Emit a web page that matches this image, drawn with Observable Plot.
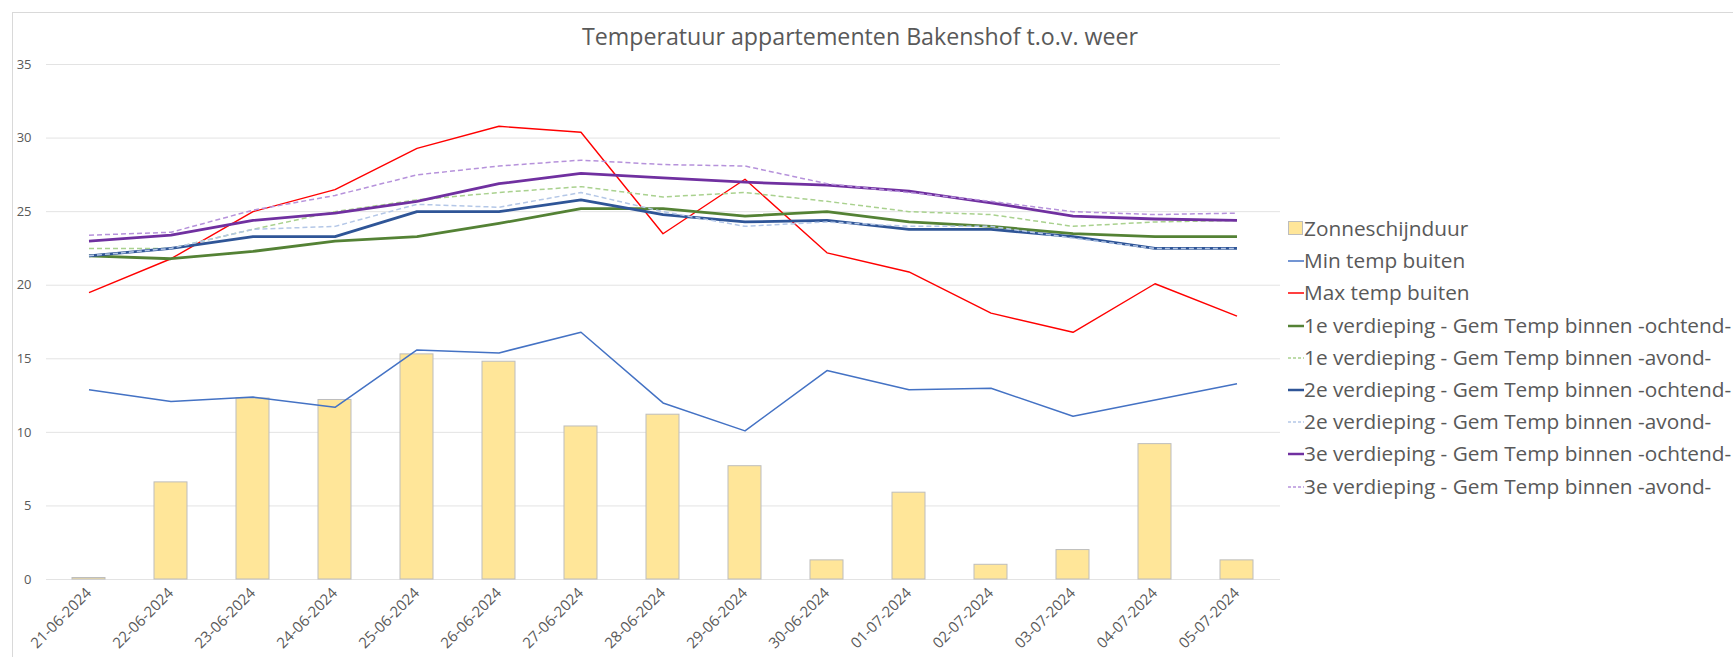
<!DOCTYPE html>
<html><head><meta charset="utf-8">
<script src="https://cdn.jsdelivr.net/npm/d3@7"></script>
<script src="https://cdn.jsdelivr.net/npm/@observablehq/plot@0.6"></script>
<style>
body{margin:0;background:#fff;font-family:"Open Sans",sans-serif;}
#wrap{position:relative;width:1733px;height:657px;overflow:hidden;background:#fff;}
#frame{position:absolute;left:12px;top:12px;width:1760px;height:700px;border-left:1px solid #d9d9d9;border-top:1px solid #d9d9d9;}
#chart{position:absolute;left:0;top:0;}
#title{position:absolute;left:0;width:1720px;top:20px;text-align:center;font-size:23.2px;color:#595959;line-height:32px;}
#legend{position:absolute;left:1287px;top:212px;width:max-content;font-size:20.8px;color:#595959;}
.row{height:32.2px;display:flex;align-items:center;white-space:nowrap;}
.row svg{flex:none;}
</style></head>
<body>
<div id="wrap">
  <div id="frame"></div>
  <div id="chart"></div>
  <div id="title">Temperatuur appartementen Bakenshof t.o.v. weer</div>
  <div id="legend"></div>
</div>
<script>
const dates = ["21-06-2024","22-06-2024","23-06-2024","24-06-2024","25-06-2024","26-06-2024","27-06-2024","28-06-2024","29-06-2024","30-06-2024","01-07-2024","02-07-2024","03-07-2024","04-07-2024","05-07-2024"];
const sunshine = [0.1, 6.6, 12.3, 12.2, 15.3, 14.8, 10.4, 11.2, 7.7, 1.3, 5.9, 1.0, 2.0, 9.2, 1.3];
const minTemp = [12.9, 12.1, 12.4, 11.7, 15.6, 15.4, 16.8, 12.0, 10.1, 14.2, 12.9, 13.0, 11.1, 12.2, 13.3];
const maxTemp = [19.5, 21.8, 25.0, 26.5, 29.3, 30.8, 30.4, 23.5, 27.2, 22.2, 20.9, 18.1, 16.8, 20.1, 17.9];
const floor1Morning = [22.0, 21.8, 22.3, 23.0, 23.3, 24.2, 25.2, 25.2, 24.7, 25.0, 24.3, 24.0, 23.5, 23.3, 23.3];
const floor1Evening = [22.5, 22.5, 23.8, 25.0, 25.8, 26.3, 26.7, 26.0, 26.3, 25.7, 25.0, 24.8, 24.0, 24.3, 24.4];
const floor2Morning = [22.0, 22.5, 23.3, 23.3, 25.0, 25.0, 25.8, 24.8, 24.3, 24.4, 23.8, 23.8, 23.3, 22.5, 22.5];
const floor2Evening = [22.0, 22.5, 23.8, 24.0, 25.5, 25.3, 26.3, 25.0, 24.0, 24.3, 24.0, 24.0, 23.2, 22.5, 22.5];
const floor3Morning = [23.0, 23.4, 24.4, 24.9, 25.7, 26.9, 27.6, 27.3, 27.0, 26.8, 26.4, 25.6, 24.7, 24.5, 24.4];
const floor3Evening = [23.4, 23.6, 25.1, 26.1, 27.5, 28.1, 28.5, 28.2, 28.1, 26.9, 26.3, 25.7, 25.0, 24.8, 24.9];
const yTicks = [0, 5, 10, 15, 20, 25, 30, 35];

const barName = "Zonneschijnduur";
const lineNames = ["Min temp buiten","Max temp buiten","1e verdieping - Gem Temp binnen -ochtend-","1e verdieping - Gem Temp binnen -avond-","2e verdieping - Gem Temp binnen -ochtend-","2e verdieping - Gem Temp binnen -avond-","3e verdieping - Gem Temp binnen -ochtend-","3e verdieping - Gem Temp binnen -avond-"];
const lineValues = [minTemp, maxTemp, floor1Morning, floor1Evening, floor2Morning, floor2Evening, floor3Morning, floor3Evening];
const lineColors = ["#4472C4","#FF0000","#548235","#A9D18E","#2F5597","#B4C7E7","#7030A0","#B692DB"];
const lineWidths = [1.5, 1.4, 2.8, 1.5, 2.8, 1.5, 2.8, 1.5];
const lineDashes = [null, null, null, "5,3", null, "5,3", null, "5,3"];

const barData = dates.map((d, i) => ({date: d, value: sunshine[i]}));
const lineMarks = lineNames.map((name, k) => Plot.line(
  dates.map((d, i) => ({date: d, value: lineValues[k][i]})),
  {x: "date", y: "value", stroke: lineColors[k], strokeWidth: lineWidths[k],
   strokeDasharray: lineDashes[k] || undefined, strokeLinejoin: "round", strokeLinecap: "butt"}
));

const chart = Plot.plot({
  width: 1733,
  height: 657,
  marginLeft: 46,
  marginRight: 453,
  marginTop: 64,
  marginBottom: 78,
  style: {fontFamily: "'Open Sans', sans-serif", color: "#595959", background: "transparent", overflow: "visible"},
  x: {type: "band", domain: dates, paddingInner: 0.6, paddingOuter: 0.3, range: [44, 1280], label: null},
  y: {domain: [0, 35], label: null},
  marks: [
    Plot.gridY(yTicks, {stroke: "#e3e3e3", strokeOpacity: 1, strokeWidth: 1}),
    Plot.axisY(yTicks, {tickSize: 0, tickPadding: 15, fontSize: 13, color: "#595959", label: null}),
    Plot.axisX({tickSize: 0, tickPadding: 11, tickRotate: -45, fontSize: 15, color: "#595959", label: null}),
    Plot.barY(barData, {x: "date", y: "value", fill: "#FFE699", stroke: "#BDBDBD", strokeWidth: 1}),
    ...lineMarks
  ]
});
document.getElementById("chart").appendChild(chart);

// legend
const legend = document.getElementById("legend");
const ns = "http://www.w3.org/2000/svg";
function row(swatch, label) {
  const r = document.createElement("div");
  r.className = "row";
  const s = document.createElementNS(ns, "svg");
  s.setAttribute("width", 17); s.setAttribute("height", 16);
  s.appendChild(swatch);
  r.appendChild(s);
  const t = document.createElement("span");
  t.textContent = label;
  r.appendChild(t);
  legend.appendChild(r);
}
{
  const rect = document.createElementNS(ns, "rect");
  rect.setAttribute("x", 1.5); rect.setAttribute("y", 1.5); rect.setAttribute("width", 14); rect.setAttribute("height", 13);
  rect.setAttribute("fill", "#FFE699"); rect.setAttribute("stroke", "#BDBDBD");
  row(rect, barName);
}
lineNames.forEach((name, k) => {
  const l = document.createElementNS(ns, "line");
  l.setAttribute("x1", 1); l.setAttribute("x2", 17); l.setAttribute("y1", 9); l.setAttribute("y2", 9);
  l.setAttribute("stroke", lineColors[k]);
  l.setAttribute("stroke-width", lineWidths[k] > 2 ? 2.5 : 1.5);
  if (lineDashes[k]) l.setAttribute("stroke-dasharray", "3,2");
  row(l, name);
});
</script>
</body></html>
